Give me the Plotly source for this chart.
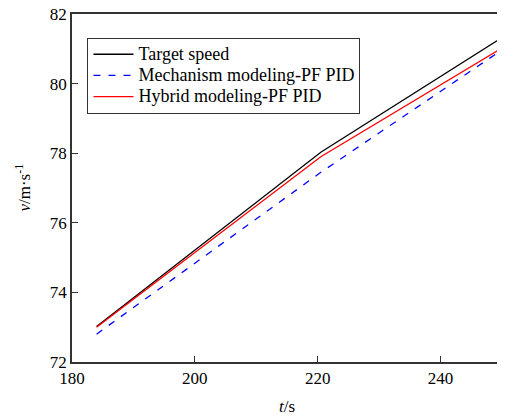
import plotly.graph_objects as go

t_target = [184, 220.5, 250]
v_target = [73.02, 78.03, 81.32]
t_mech = [184, 220.5, 250]
v_mech = [72.80, 77.45, 80.97]
t_hybrid = [184, 220.5, 250]
v_hybrid = [73.00, 77.90, 81.02]
names = ["Target speed", "Mechanism modeling-PF PID", "Hybrid modeling-PF PID"]

FONT = "Liberation Serif, Times New Roman, serif"


def legend_name(s):
    # larger text inside compact legend rows
    return '<span style="font-size:18px">' + s + '</span>'


fig = go.Figure()
fig.add_trace(go.Scatter(x=t_target, y=v_target, mode="lines", name=legend_name(names[0]),
                         line=dict(color="black", width=1.3)))
fig.add_trace(go.Scatter(x=t_mech, y=v_mech, mode="lines", name=legend_name(names[1]),
                         line=dict(color="blue", width=1.3, dash="7px,8px")))
fig.add_trace(go.Scatter(x=t_hybrid, y=v_hybrid, mode="lines", name=legend_name(names[2]),
                         line=dict(color="red", width=1.3)))

# page body has an 8px default margin, so the figure is sized to fit inside it
fig.update_layout(
    width=497, height=409,
    margin=dict(l=64, r=3, t=6, b=55, autoexpand=False),
    paper_bgcolor="white", plot_bgcolor="white",
    font=dict(family=FONT, size=16, color="black"),
    showlegend=True,
    legend=dict(x=0.036, y=0.932, xanchor="left", yanchor="top",
                bgcolor="white", bordercolor="#333", borderwidth=1,
                font=dict(family=FONT, size=14), tracegroupgap=0,
                itemwidth=40),
    xaxis=dict(range=[180, 250], tickvals=[180, 200, 220, 240],
               ticks="inside", ticklen=6, tickcolor="#333",
               showline=True, linecolor="#333", linewidth=1.5, mirror=True,
               showgrid=False, zeroline=False, automargin=False,
               ticklabeloverflow="allow",
               tickfont=dict(family=FONT, size=17)),
    yaxis=dict(range=[72, 82], tickvals=[72, 74, 76, 78, 80, 82],
               ticks="inside", ticklen=6, tickcolor="#333",
               showline=True, linecolor="#333", linewidth=1.5, mirror=True,
               showgrid=False, zeroline=False, automargin=False,
               ticklabeloverflow="allow",
               tickfont=dict(family=FONT, size=17)),
    annotations=[
        dict(text="<i>t</i>/s", xref="paper", yref="paper", x=0.5, y=-0.095,
             xanchor="center", yanchor="top", showarrow=False,
             font=dict(family=FONT, size=17)),
        dict(text="<i>v</i>/m·s<sup>-1</sup>", xref="paper", yref="paper", x=-0.115, y=0.5,
             xanchor="center", yanchor="middle", textangle=-90, showarrow=False,
             font=dict(family=FONT, size=17)),
    ],
)

fig.write_html("out.html")
